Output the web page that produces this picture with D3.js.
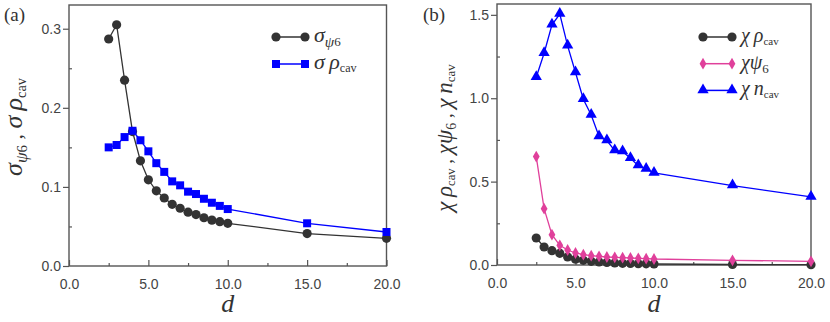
<!DOCTYPE html>
<html>
<head>
<meta charset="utf-8">
<script src="https://cdn.jsdelivr.net/npm/d3@7"></script>
<style>
  body { margin: 0; background: #fff; }
  svg { display: block; }
</style>
</head>
<body>
<svg id="chart" width="830" height="322"></svg>
<script>
// d values (same for every series)
var dVals = [2.5, 3, 3.5, 4, 4.5, 5, 5.5, 6, 6.5, 7, 7.5, 8, 8.5, 9, 9.5, 10, 15, 20];

// panel (a)
var sigmaPsi6 = [0.287, 0.305, 0.235, 0.170, 0.133, 0.109, 0.095, 0.086, 0.078, 0.073, 0.068, 0.065, 0.061, 0.058, 0.056, 0.054, 0.041, 0.035];
var sigmaRho  = [0.150, 0.153, 0.163, 0.171, 0.159, 0.145, 0.130, 0.119, 0.107, 0.102, 0.094, 0.091, 0.085, 0.080, 0.076, 0.072, 0.054, 0.043];

// panel (b)
var chiRho  = [0.162, 0.108, 0.086, 0.070, 0.048, 0.035, 0.028, 0.022, 0.018, 0.015, 0.012, 0.010, 0.009, 0.008, 0.007, 0.006, 0.003, 0.002];
var chiPsi6 = [0.650, 0.338, 0.182, 0.118, 0.090, 0.072, 0.062, 0.056, 0.052, 0.048, 0.046, 0.044, 0.042, 0.040, 0.038, 0.036, 0.028, 0.022];
var chiN    = [1.126, 1.270, 1.440, 1.505, 1.314, 1.154, 0.994, 0.900, 0.770, 0.746, 0.686, 0.680, 0.640, 0.596, 0.576, 0.552, 0.476, 0.408];

var xTicks = [0, 5, 10, 15, 20];
var yTicksA = [0, 0.1, 0.2, 0.3];
var yTicksB = [0, 0.5, 1.0, 1.5];

var SERIF = "'Liberation Serif', 'Times New Roman', 'DejaVu Serif', serif";
var SANS = "'Liberation Sans', Arial, sans-serif";

var svg = d3.select("#chart");
var frameColor = "#555";

function drawMarker(g, shape, x, y, color) {
  if (shape == "circle") {
    g.append("circle").attr("cx", x).attr("cy", y).attr("r", 4.6).attr("fill", color);
  } else if (shape == "square") {
    g.append("rect").attr("x", x - 4).attr("y", y - 4).attr("width", 8).attr("height", 8).attr("fill", color);
  } else if (shape == "diamond") {
    g.append("path").attr("d", d3.symbol(d3.symbolDiamond, 40)()).attr("transform", "translate(" + x + "," + y + ")").attr("fill", color);
  } else {
    g.append("path").attr("d", d3.symbol(d3.symbolTriangle, 55)()).attr("transform", "translate(" + x + "," + (y - 0.5) + ")").attr("fill", color);
  }
}

function serifText(g) {
  return g.append("text").style("font-family", SERIF).attr("fill", "#333");
}

function panel(opts) {
  var x = d3.scaleLinear().domain([0, 20]).range([opts.x0, opts.x1]);
  var y = d3.scaleLinear().domain([0, opts.ymax]).range([opts.y1, opts.y0]);
  var g = svg.append("g");

  // x axis, inward ticks
  g.append("g").attr("transform", "translate(0," + opts.y1 + ")")
    .call(d3.axisBottom(x).tickValues(xTicks).tickFormat(d3.format(".1f")).tickSize(-6).tickPadding(13));
  g.append("g").attr("transform", "translate(0," + opts.y1 + ")")
    .call(d3.axisBottom(x).tickValues([2.5, 7.5, 12.5, 17.5]).tickFormat("").tickSize(-3));

  // y axis
  g.append("g").attr("transform", "translate(" + opts.x0 + ",0)")
    .call(d3.axisLeft(y).tickValues(opts.yticks).tickFormat(d3.format(".1f")).tickSize(6).tickPadding(2));
  g.append("g").attr("transform", "translate(" + opts.x0 + ",0)")
    .call(d3.axisLeft(y).tickValues(opts.yminor).tickFormat("").tickSize(-3));

  g.selectAll(".domain").remove();
  g.selectAll(".tick line").attr("stroke", frameColor).attr("stroke-width", 1.2);
  g.selectAll(".tick text").style("font-family", SANS).style("font-size", "14px").attr("fill", "#444");

  g.append("rect").attr("x", opts.x0).attr("y", opts.y0)
    .attr("width", opts.x1 - opts.x0).attr("height", opts.y1 - opts.y0)
    .attr("fill", "none").attr("stroke", frameColor).attr("stroke-width", 1.4);

  var line = d3.line().x(function(d) { return x(d[0]); }).y(function(d) { return y(d[1]); });

  opts.series.forEach(function(s) {
    var pts = dVals.map(function(d, i) { return [d, s.values[i]]; });
    g.append("path").datum(pts).attr("d", line).attr("fill", "none")
      .attr("stroke", s.color).attr("stroke-width", 1.3);
    pts.forEach(function(p) { drawMarker(g, s.shape, x(p[0]), y(p[1]), s.color); });
  });

  // legend
  opts.series.forEach(function(s, i) {
    var ly = opts.legY + i * opts.legStep;
    g.append("line").attr("x1", opts.legX).attr("x2", opts.legX + 29).attr("y1", ly).attr("y2", ly)
      .attr("stroke", s.color).attr("stroke-width", 1.5);
    drawMarker(g, s.shape, opts.legX, ly, s.color);
    drawMarker(g, s.shape, opts.legX + 29, ly, s.color);
    var t = serifText(g).attr("x", opts.legX + 38).attr("y", ly + 5);
    s.label(t);
  });

  // x label
  serifText(g).attr("x", (opts.x0 + opts.x1) / 2).attr("y", 312)
    .attr("text-anchor", "middle").attr("font-style", "italic").attr("font-size", 26).text("d");

  // panel letter
  serifText(g).attr("x", opts.letterX).attr("y", 21)
    .attr("font-size", 19).text(opts.letter);

  // y label
  var yl = serifText(g).attr("text-anchor", "middle")
    .attr("transform", "translate(" + opts.ylabX + "," + opts.ylabY + ") rotate(-90)");
  opts.ylabel(yl);
}

function symRho(t, lead, size) {
  t.append("tspan").attr("font-style", "italic").attr("font-size", size).text(lead + "\u2009");
  t.append("tspan").attr("font-style", "italic").attr("font-size", size).text("\u03c1");
  t.append("tspan").attr("font-size", size * 0.55).attr("baseline-shift", "-25%").text("cav");
}

panel({
  x0: 69, x1: 386.5, y0: 5, y1: 266, ymax: 0.33,
  yticks: yTicksA, yminor: [0.05, 0.15, 0.25],
  letter: "(a)", letterX: 4,
  legX: 276, legY: 37, legStep: 27,
  ylabX: 22, ylabY: 127,
  series: [
    { values: sigmaPsi6, color: "#333", shape: "circle",
      label: function(t) {
        t.append("tspan").attr("font-style", "italic").attr("font-size", 22).text("\u03c3");
        t.append("tspan").attr("font-style", "italic").attr("font-size", 15).attr("baseline-shift", "-30%").text("\u03c8");
        t.append("tspan").attr("font-size", 13).attr("baseline-shift", "-30%").text("6");
      } },
    { values: sigmaRho, color: "#0000ff", shape: "square",
      label: function(t) { symRho(t, "\u03c3", 22); } }
  ],
  ylabel: function(t) {
    t.append("tspan").attr("font-style", "italic").attr("font-size", 26).text("\u03c3");
    t.append("tspan").attr("font-style", "italic").attr("font-size", 17).attr("baseline-shift", "-30%").text("\u03c8");
    t.append("tspan").attr("font-size", 15).attr("baseline-shift", "-30%").text("6");
    t.append("tspan").attr("font-size", 22).text(" , ");
    symRho(t, "\u03c3", 26);
  }
});

panel({
  x0: 497, x1: 811, y0: 4, y1: 265, ymax: 1.565,
  yticks: yTicksB, yminor: [0.25, 0.75, 1.25],
  letter: "(b)", letterX: 423,
  legX: 703, legY: 37, legStep: 26.7,
  ylabX: 452, ylabY: 138,
  series: [
    { values: chiRho, color: "#333", shape: "circle",
      label: function(t) { symRho(t, "\u03c7", 20); } },
    { values: chiPsi6, color: "#e0409b", shape: "diamond",
      label: function(t) {
        t.append("tspan").attr("font-style", "italic").attr("font-size", 20).text("\u03c7\u03c8");
        t.append("tspan").attr("font-size", 13).attr("baseline-shift", "-30%").text("6");
      } },
    { values: chiN, color: "#0000ff", shape: "triangle",
      label: function(t) {
        t.append("tspan").attr("font-style", "italic").attr("font-size", 20).text("\u03c7\u2009n");
        t.append("tspan").attr("font-size", 11).attr("baseline-shift", "-25%").text("cav");
      } }
  ],
  ylabel: function(t) {
    symRho(t, "\u03c7", 23);
    t.append("tspan").attr("font-size", 19).text(" , ");
    t.append("tspan").attr("font-style", "italic").attr("font-size", 23).text("\u03c7\u03c8");
    t.append("tspan").attr("font-size", 14).attr("baseline-shift", "-30%").text("6");
    t.append("tspan").attr("font-size", 19).text(" , ");
    t.append("tspan").attr("font-style", "italic").attr("font-size", 23).text("\u03c7\u2009n");
    t.append("tspan").attr("font-size", 13).attr("baseline-shift", "-25%").text("cav");
  }
});
</script>
</body>
</html>
